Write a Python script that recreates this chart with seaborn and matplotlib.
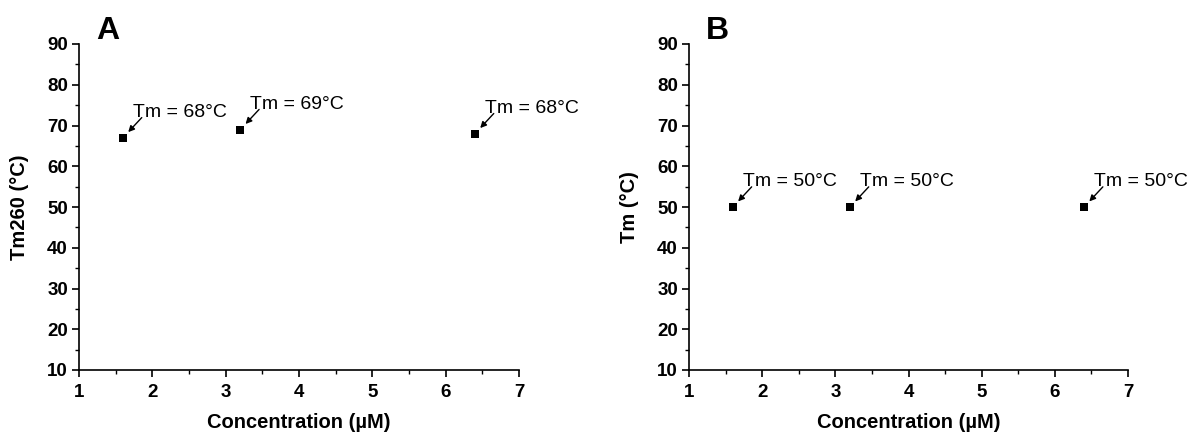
import numpy as np
import pandas as pd
import seaborn as sns
import matplotlib.pyplot as plt
from matplotlib.ticker import MultipleLocator

# -------------------------
# Data
# -------------------------
conc = [1.6, 3.2, 6.4]
tm260_a = [67, 69, 68]
tm_b = [50, 50, 50]
labels_a = ["Tm = 68°C", "Tm = 69°C", "Tm = 68°C"]
labels_b = ["Tm = 50°C", "Tm = 50°C", "Tm = 50°C"]

df_a = pd.DataFrame({"conc": conc, "tm": tm260_a})
df_b = pd.DataFrame({"conc": conc, "tm": tm_b})

sns.set_theme(style="ticks")
plt.rcParams["font.family"] = ["Liberation Sans", "DejaVu Sans"]
plt.rcParams["text.color"] = "black"
plt.rcParams["axes.labelcolor"] = "black"
plt.rcParams["xtick.color"] = "black"
plt.rcParams["ytick.color"] = "black"

fig = plt.figure(figsize=(11.9, 4.34), dpi=100)
ax_a = fig.add_axes([79 / 1190, 64 / 434, 440 / 1190, 326 / 434])
ax_b = fig.add_axes([689 / 1190, 64 / 434, 439 / 1190, 326 / 434])


def style_panel(ax, df, labels, ylabel, letter):
    sns.scatterplot(data=df, x="conc", y="tm", ax=ax, marker="s", color="black",
                    s=38, linewidth=0, zorder=3)
    for x, y, lab in zip(df["conc"], df["tm"], labels):
        ax.annotate(lab, xy=(x, y), xytext=(7, 15), textcoords="offset points",
                    ha="left", va="baseline", fontsize=14, color="black")
        ax.annotate("", xy=(x, y), xytext=(13.5, 14.5), textcoords="offset points",
                    arrowprops=dict(arrowstyle="-|>", color="black", lw=1.0,
                                    mutation_scale=9, shrinkA=0, shrinkB=5.5))
    ax.set_xlim(1, 7)
    ax.set_ylim(10, 90)
    ax.xaxis.set_major_locator(MultipleLocator(1))
    ax.xaxis.set_minor_locator(MultipleLocator(0.5))
    ax.yaxis.set_major_locator(MultipleLocator(10))
    ax.yaxis.set_minor_locator(MultipleLocator(5))
    ax.tick_params(which="major", direction="out", length=5, width=1.2,
                   labelsize=13.5, color="black", labelcolor="black")
    ax.tick_params(which="minor", direction="out", length=3, width=1.0, color="black")
    ax.tick_params(axis="x", pad=5)
    ax.tick_params(axis="y", pad=3)
    for t in ax.get_xticklabels() + ax.get_yticklabels():
        t.set_fontweight("bold")
    for sp in ["left", "bottom"]:
        ax.spines[sp].set_linewidth(1.2)
        ax.spines[sp].set_color("black")
    sns.despine(ax=ax)
    ax.set_xlabel("Concentration (µM)", fontsize=14.5, fontweight="bold",
                  labelpad=9, color="black")
    ax.set_ylabel(ylabel, fontsize=14.5, fontweight="bold", labelpad=13,
                  color="black")
    ax.text(0.038, 1.015, letter, transform=ax.transAxes, fontsize=23,
            fontweight="bold", ha="left", va="baseline", color="black")


style_panel(ax_a, df_a, labels_a, "Tm260 (°C)", "A")
style_panel(ax_b, df_b, labels_b, "Tm (°C)", "B")

fig.savefig("out.png", dpi=100)
